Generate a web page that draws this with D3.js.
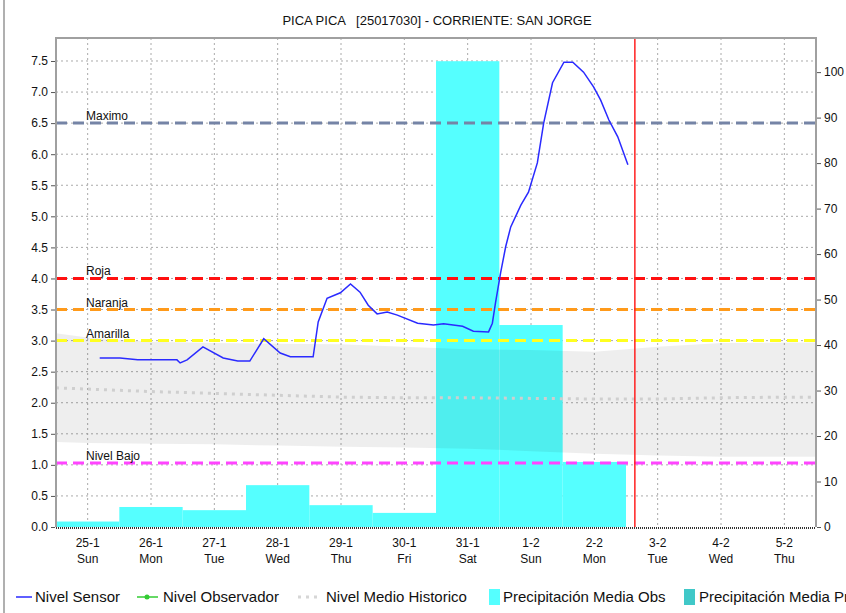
<!DOCTYPE html>
<html>
<head>
<meta charset="utf-8">
<script src="https://cdn.jsdelivr.net/npm/d3@7"></script>
<style>
  body { margin: 0; background: #fff; }
  svg { display: block; font-family: "Liberation Sans", Arial, sans-serif; }
</style>
</head>
<body>
<div id="chart"></div>
<script>
// days counted from 25-1 (0) to 5-2 (11)
const dayLabels = ["25-1", "26-1", "27-1", "28-1", "29-1", "30-1", "31-1", "1-2", "2-2", "3-2", "4-2", "5-2"];
const weekLabels = ["Sun", "Mon", "Tue", "Wed", "Thu", "Fri", "Sat", "Sun", "Mon", "Tue", "Wed", "Thu"];

// daily precipitation (mm, right axis)
const precipDays = [0, 1, 2, 3, 4, 5, 6, 7, 8];
const precipObs = [1.2, 4.4, 3.7, 9.2, 4.8, 3.1, 102.4, 44.4, 14.3];

// sensor level (m)
const sensorDays = [0.19, 0.51, 0.79, 1.41, 1.46, 1.57, 1.82, 2.14, 2.37, 2.56, 2.78, 3.04, 3.2, 3.56,
  3.64, 3.78, 3.99, 4.15, 4.3, 4.43, 4.57, 4.73, 4.89, 5.21, 5.46, 5.62, 5.92, 6.09, 6.33, 6.39, 6.44,
  6.52, 6.6, 6.68, 6.84, 6.96, 7.1, 7.2, 7.34, 7.52, 7.66, 7.83, 7.99, 8.1, 8.23, 8.37, 8.53];
const sensorLevel = [2.72, 2.72, 2.69, 2.69, 2.64, 2.69, 2.9, 2.72, 2.67, 2.67, 3.03, 2.8, 2.74, 2.74,
  3.3, 3.68, 3.77, 3.91, 3.78, 3.57, 3.43, 3.46, 3.41, 3.28, 3.25, 3.27, 3.23, 3.15, 3.14, 3.28, 3.61,
  4.09, 4.51, 4.83, 5.18, 5.39, 5.86, 6.5, 7.15, 7.48, 7.48, 7.32, 7.08, 6.87, 6.55, 6.28, 5.83];

// historic band and mean
const histDays = [-0.5, 0, 1, 2, 3, 4, 5, 6, 7, 8, 9, 10, 11, 11.5];
const histMax = [3.12, 3.05, 2.98, 2.96, 2.95, 2.94, 2.9, 2.86, 2.85, 2.82, 2.9, 2.96, 2.97, 2.97];
const histMin = [1.37, 1.35, 1.34, 1.33, 1.31, 1.29, 1.28, 1.26, 1.22, 1.18, 1.15, 1.13, 1.13, 1.13];
const histMean = [2.24, 2.22, 2.18, 2.15, 2.12, 2.09, 2.08, 2.08, 2.07, 2.06, 2.06, 2.08, 2.09, 2.09];

// alert thresholds
const thrNames = ["Maximo", "Roja", "Naranja", "Amarilla", "Nivel Bajo"];
const thrValues = [6.5, 4.0, 3.5, 3.0, 1.03];
const thrColors = ["#7584a6", "#ff1010", "#ff9a1a", "#ffff20", "#ff44ff"];

const nowDay = 8.64;

let w = 846;
let h = 613;
let pLeft = 56, pRight = 816, pTop = 38, pBottom = 527;

let svg = d3.select("#chart")
    .append("svg")
    .attr("width", w)
    .attr("height", h);

let x = d3.scaleLinear().domain([-0.5, 11.5]).range([pLeft, pRight]);
let y = d3.scaleLinear().domain([0, 7.87]).range([pBottom, pTop]);
let y2 = d3.scaleLinear().domain([0, 107.5]).range([pBottom, pTop]);

// window edge
svg.append("line").attr("x1", 4).attr("x2", 4).attr("y1", 0).attr("y2", h)
    .attr("stroke", "#b0b0b0").attr("stroke-width", 2);

// title
svg.append("text")
    .attr("x", 437).attr("y", 25)
    .attr("text-anchor", "middle")
    .attr("font-size", "13px")
    .attr("fill", "#111")
    .style("white-space", "pre")
    .text("PICA PICA   [25017030] - CORRIENTE: SAN JORGE");

// grid
let yTicks = d3.range(0, 7.51, 0.5);
svg.append("g").selectAll("line")
    .data(yTicks.slice(1))
    .enter()
    .append("line")
    .attr("x1", pLeft).attr("x2", pRight)
    .attr("y1", d => y(d)).attr("y2", d => y(d))
    .attr("stroke", "#aaa").attr("stroke-dasharray", "2,3");
svg.append("g").selectAll("line")
    .data(d3.range(0, 12))
    .enter()
    .append("line")
    .attr("x1", d => x(d)).attr("x2", d => x(d))
    .attr("y1", pTop).attr("y2", pBottom)
    .attr("stroke", "#aaa").attr("stroke-dasharray", "2,3");

// precipitation bars
svg.append("g").selectAll("rect")
    .data(precipDays)
    .enter()
    .append("rect")
    .attr("x", d => x(d - 0.5))
    .attr("y", (d, i) => y2(precipObs[i]))
    .attr("width", d => x(d + 0.5) - x(d - 0.5))
    .attr("height", (d, i) => pBottom - y2(precipObs[i]))
    .attr("fill", "#55ffff");

// historic band
let band = d3.area()
    .x((d, i) => x(histDays[i]))
    .y0((d, i) => y(histMin[i]))
    .y1((d, i) => y(histMax[i]));
svg.append("path")
    .attr("d", band(histDays))
    .attr("fill", "rgba(0,0,0,0.065)");

// historic mean
let meanLine = d3.line()
    .x((d, i) => x(histDays[i]))
    .y((d, i) => y(histMean[i]));
svg.append("path")
    .attr("d", meanLine(histDays))
    .attr("fill", "none")
    .attr("stroke", "#cfcfcf")
    .attr("stroke-width", 3)
    .attr("stroke-dasharray", "3,5");

// thresholds
let thr = svg.append("g");
thr.selectAll("line")
    .data(thrValues)
    .enter()
    .append("line")
    .attr("x1", pLeft).attr("x2", pRight)
    .attr("y1", d => y(d)).attr("y2", d => y(d))
    .attr("stroke", (d, i) => thrColors[i])
    .attr("stroke-width", 3)
    .attr("stroke-dasharray", "11,6");
thr.selectAll("text")
    .data(thrValues)
    .enter()
    .append("text")
    .attr("x", 86)
    .attr("y", d => y(d) - 3)
    .attr("font-size", "12px")
    .attr("fill", "#111")
    .text((d, i) => thrNames[i]);

// now line
svg.append("line")
    .attr("x1", x(nowDay)).attr("x2", x(nowDay))
    .attr("y1", pTop).attr("y2", pBottom)
    .attr("stroke", "#ff2020").attr("stroke-width", 1.5);

// sensor line
let sensor = d3.line()
    .x((d, i) => x(sensorDays[i]))
    .y((d, i) => y(sensorLevel[i]));
svg.append("path")
    .attr("d", sensor(sensorDays))
    .attr("fill", "none")
    .attr("stroke", "#2a2aff")
    .attr("stroke-width", 1.5);

// frame
svg.append("path")
    .attr("d", `M${pLeft},${pBottom}V${pTop}H${pRight}V${pBottom}`)
    .attr("fill", "none")
    .attr("stroke", "#a0a0a0")
    .attr("stroke-width", 2);
svg.append("line")
    .attr("x1", pLeft).attr("x2", pRight)
    .attr("y1", pBottom + 1).attr("y2", pBottom + 1)
    .attr("stroke", "#333").attr("stroke-width", 2)
    .attr("stroke-dasharray", "1,1");

// axes
let yAxis = d3.axisLeft(y).tickValues(yTicks).tickFormat(d3.format(".1f")).tickSize(4).tickSizeOuter(0);
let gy = svg.append("g").attr("transform", `translate(${pLeft - 1},0)`).call(yAxis);
let y2Axis = d3.axisRight(y2).tickValues(d3.range(0, 101, 10)).tickSize(4).tickSizeOuter(0);
let gy2 = svg.append("g").attr("transform", `translate(${pRight + 1},0)`).call(y2Axis);
[gy, gy2].forEach(g => {
    g.select(".domain").remove();
    g.selectAll("line").attr("stroke", "#555");
    g.selectAll("text").attr("font-size", "12px").attr("fill", "#111")
        .attr("font-family", "Liberation Sans, Arial, sans-serif");
});

let gx = svg.append("g").selectAll("g")
    .data(d3.range(0, 12))
    .enter()
    .append("g");
gx.append("text")
    .attr("x", d => x(d)).attr("y", 547)
    .attr("text-anchor", "middle")
    .attr("font-size", "12px").attr("fill", "#111")
    .text(d => dayLabels[d]);
gx.append("text")
    .attr("x", d => x(d)).attr("y", 563)
    .attr("text-anchor", "middle")
    .attr("font-size", "12px").attr("fill", "#111")
    .text(d => weekLabels[d]);

// legend
let lg = svg.append("g").attr("font-size", "15px").attr("fill", "#111");
lg.append("line").attr("x1", 16).attr("x2", 32).attr("y1", 597).attr("y2", 597)
    .attr("stroke", "#2a2aff").attr("stroke-width", 1.5);
lg.append("text").attr("x", 35).attr("y", 602).text("Nivel Sensor");
lg.append("line").attr("x1", 137).attr("x2", 158).attr("y1", 597).attr("y2", 597)
    .attr("stroke", "#33cc33").attr("stroke-width", 1.5);
lg.append("circle").attr("cx", 147).attr("cy", 597).attr("r", 2.5).attr("fill", "#33cc33");
lg.append("text").attr("x", 163).attr("y", 602).text("Nivel Observador");
lg.append("line").attr("x1", 298).attr("x2", 320).attr("y1", 597).attr("y2", 597)
    .attr("stroke", "#d6d6d6").attr("stroke-width", 3).attr("stroke-dasharray", "3,5");
lg.append("text").attr("x", 326).attr("y", 602).text("Nivel Medio Historico");
lg.append("rect").attr("x", 489).attr("y", 589).attr("width", 11).attr("height", 16).attr("fill", "#55ffff");
lg.append("text").attr("x", 503).attr("y", 602).text("Precipitación Media Obs");
lg.append("rect").attr("x", 684).attr("y", 589).attr("width", 11).attr("height", 16).attr("fill", "#40c8c8");
lg.append("text").attr("x", 699).attr("y", 602).text("Precipitación Media Pronosticada");
</script>
</body>
</html>
